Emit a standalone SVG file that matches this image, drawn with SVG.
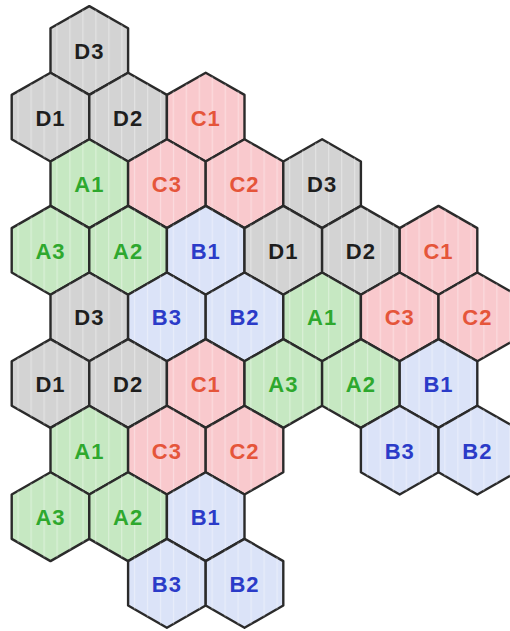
<svg xmlns="http://www.w3.org/2000/svg" width="510" height="631" viewBox="0 0 510 631">
<defs>
<pattern id="stripes" patternUnits="userSpaceOnUse" width="13" height="20">
<rect x="6" y="0" width="1.2" height="20" fill="#ffffff" opacity="0.35"/>
</pattern>
<style>
.hx{stroke:#2a2a2a;stroke-width:2.4;stroke-linejoin:round}
.st{fill:url(#stripes);stroke:none}
.d .hx{fill:#d3d3d3}
.a .hx{fill:#c6e8c2}
.c .hx{fill:#f9c9cd}
.b .hx{fill:#dbe3f8}
text{font-family:"Liberation Sans",Arial,sans-serif;font-weight:bold;font-size:22px;text-anchor:middle;letter-spacing:1px}
.d text{fill:#1e1e1e}
.a text{fill:#2ea82e}
.c text{fill:#e5553a}
.b text{fill:#2b3bc8}
</style>
</defs>
<g id="nodes">
<g id="r0-D3" class="d" transform="translate(89.3,50.5)"><polygon class="hx" points="0,-44.4 38.8,-22.2 38.8,22.2 0,44.4 -38.8,22.2 -38.8,-22.2"/><polygon class="st" points="0,-44.4 38.8,-22.2 38.8,22.2 0,44.4 -38.8,22.2 -38.8,-22.2"/><text x="0" y="8.5">D3</text></g>

<g id="r1-D1" class="d" transform="translate(50.5,117.1)"><polygon class="hx" points="0,-44.4 38.8,-22.2 38.8,22.2 0,44.4 -38.8,22.2 -38.8,-22.2"/><polygon class="st" points="0,-44.4 38.8,-22.2 38.8,22.2 0,44.4 -38.8,22.2 -38.8,-22.2"/><text x="0" y="8.5">D1</text></g>
<g id="r1-D2" class="d" transform="translate(128.1,117.1)"><polygon class="hx" points="0,-44.4 38.8,-22.2 38.8,22.2 0,44.4 -38.8,22.2 -38.8,-22.2"/><polygon class="st" points="0,-44.4 38.8,-22.2 38.8,22.2 0,44.4 -38.8,22.2 -38.8,-22.2"/><text x="0" y="8.5">D2</text></g>
<g id="r1-C1" class="c" transform="translate(205.7,117.1)"><polygon class="hx" points="0,-44.4 38.8,-22.2 38.8,22.2 0,44.4 -38.8,22.2 -38.8,-22.2"/><polygon class="st" points="0,-44.4 38.8,-22.2 38.8,22.2 0,44.4 -38.8,22.2 -38.8,-22.2"/><text x="0" y="8.5">C1</text></g>

<g id="r2-A1" class="a" transform="translate(89.3,183.7)"><polygon class="hx" points="0,-44.4 38.8,-22.2 38.8,22.2 0,44.4 -38.8,22.2 -38.8,-22.2"/><polygon class="st" points="0,-44.4 38.8,-22.2 38.8,22.2 0,44.4 -38.8,22.2 -38.8,-22.2"/><text x="0" y="8.5">A1</text></g>
<g id="r2-C3" class="c" transform="translate(166.9,183.7)"><polygon class="hx" points="0,-44.4 38.8,-22.2 38.8,22.2 0,44.4 -38.8,22.2 -38.8,-22.2"/><polygon class="st" points="0,-44.4 38.8,-22.2 38.8,22.2 0,44.4 -38.8,22.2 -38.8,-22.2"/><text x="0" y="8.5">C3</text></g>
<g id="r2-C2" class="c" transform="translate(244.5,183.7)"><polygon class="hx" points="0,-44.4 38.8,-22.2 38.8,22.2 0,44.4 -38.8,22.2 -38.8,-22.2"/><polygon class="st" points="0,-44.4 38.8,-22.2 38.8,22.2 0,44.4 -38.8,22.2 -38.8,-22.2"/><text x="0" y="8.5">C2</text></g>
<g id="r2-D3" class="d" transform="translate(322.1,183.7)"><polygon class="hx" points="0,-44.4 38.8,-22.2 38.8,22.2 0,44.4 -38.8,22.2 -38.8,-22.2"/><polygon class="st" points="0,-44.4 38.8,-22.2 38.8,22.2 0,44.4 -38.8,22.2 -38.8,-22.2"/><text x="0" y="8.5">D3</text></g>

<g id="r3-A3" class="a" transform="translate(50.5,250.3)"><polygon class="hx" points="0,-44.4 38.8,-22.2 38.8,22.2 0,44.4 -38.8,22.2 -38.8,-22.2"/><polygon class="st" points="0,-44.4 38.8,-22.2 38.8,22.2 0,44.4 -38.8,22.2 -38.8,-22.2"/><text x="0" y="8.5">A3</text></g>
<g id="r3-A2" class="a" transform="translate(128.1,250.3)"><polygon class="hx" points="0,-44.4 38.8,-22.2 38.8,22.2 0,44.4 -38.8,22.2 -38.8,-22.2"/><polygon class="st" points="0,-44.4 38.8,-22.2 38.8,22.2 0,44.4 -38.8,22.2 -38.8,-22.2"/><text x="0" y="8.5">A2</text></g>
<g id="r3-B1" class="b" transform="translate(205.7,250.3)"><polygon class="hx" points="0,-44.4 38.8,-22.2 38.8,22.2 0,44.4 -38.8,22.2 -38.8,-22.2"/><polygon class="st" points="0,-44.4 38.8,-22.2 38.8,22.2 0,44.4 -38.8,22.2 -38.8,-22.2"/><text x="0" y="8.5">B1</text></g>
<g id="r3-D1" class="d" transform="translate(283.3,250.3)"><polygon class="hx" points="0,-44.4 38.8,-22.2 38.8,22.2 0,44.4 -38.8,22.2 -38.8,-22.2"/><polygon class="st" points="0,-44.4 38.8,-22.2 38.8,22.2 0,44.4 -38.8,22.2 -38.8,-22.2"/><text x="0" y="8.5">D1</text></g>
<g id="r3-D2" class="d" transform="translate(360.9,250.3)"><polygon class="hx" points="0,-44.4 38.8,-22.2 38.8,22.2 0,44.4 -38.8,22.2 -38.8,-22.2"/><polygon class="st" points="0,-44.4 38.8,-22.2 38.8,22.2 0,44.4 -38.8,22.2 -38.8,-22.2"/><text x="0" y="8.5">D2</text></g>
<g id="r3-C1" class="c" transform="translate(438.5,250.3)"><polygon class="hx" points="0,-44.4 38.8,-22.2 38.8,22.2 0,44.4 -38.8,22.2 -38.8,-22.2"/><polygon class="st" points="0,-44.4 38.8,-22.2 38.8,22.2 0,44.4 -38.8,22.2 -38.8,-22.2"/><text x="0" y="8.5">C1</text></g>

<g id="r4-D3" class="d" transform="translate(89.3,316.9)"><polygon class="hx" points="0,-44.4 38.8,-22.2 38.8,22.2 0,44.4 -38.8,22.2 -38.8,-22.2"/><polygon class="st" points="0,-44.4 38.8,-22.2 38.8,22.2 0,44.4 -38.8,22.2 -38.8,-22.2"/><text x="0" y="8.5">D3</text></g>
<g id="r4-B3" class="b" transform="translate(166.9,316.9)"><polygon class="hx" points="0,-44.4 38.8,-22.2 38.8,22.2 0,44.4 -38.8,22.2 -38.8,-22.2"/><polygon class="st" points="0,-44.4 38.8,-22.2 38.8,22.2 0,44.4 -38.8,22.2 -38.8,-22.2"/><text x="0" y="8.5">B3</text></g>
<g id="r4-B2" class="b" transform="translate(244.5,316.9)"><polygon class="hx" points="0,-44.4 38.8,-22.2 38.8,22.2 0,44.4 -38.8,22.2 -38.8,-22.2"/><polygon class="st" points="0,-44.4 38.8,-22.2 38.8,22.2 0,44.4 -38.8,22.2 -38.8,-22.2"/><text x="0" y="8.5">B2</text></g>
<g id="r4-A1" class="a" transform="translate(322.1,316.9)"><polygon class="hx" points="0,-44.4 38.8,-22.2 38.8,22.2 0,44.4 -38.8,22.2 -38.8,-22.2"/><polygon class="st" points="0,-44.4 38.8,-22.2 38.8,22.2 0,44.4 -38.8,22.2 -38.8,-22.2"/><text x="0" y="8.5">A1</text></g>
<g id="r4-C3" class="c" transform="translate(399.7,316.9)"><polygon class="hx" points="0,-44.4 38.8,-22.2 38.8,22.2 0,44.4 -38.8,22.2 -38.8,-22.2"/><polygon class="st" points="0,-44.4 38.8,-22.2 38.8,22.2 0,44.4 -38.8,22.2 -38.8,-22.2"/><text x="0" y="8.5">C3</text></g>
<g id="r4-C2" class="c" transform="translate(477.3,316.9)"><polygon class="hx" points="0,-44.4 38.8,-22.2 38.8,22.2 0,44.4 -38.8,22.2 -38.8,-22.2"/><polygon class="st" points="0,-44.4 38.8,-22.2 38.8,22.2 0,44.4 -38.8,22.2 -38.8,-22.2"/><text x="0" y="8.5">C2</text></g>

<g id="r5-D1" class="d" transform="translate(50.5,383.5)"><polygon class="hx" points="0,-44.4 38.8,-22.2 38.8,22.2 0,44.4 -38.8,22.2 -38.8,-22.2"/><polygon class="st" points="0,-44.4 38.8,-22.2 38.8,22.2 0,44.4 -38.8,22.2 -38.8,-22.2"/><text x="0" y="8.5">D1</text></g>
<g id="r5-D2" class="d" transform="translate(128.1,383.5)"><polygon class="hx" points="0,-44.4 38.8,-22.2 38.8,22.2 0,44.4 -38.8,22.2 -38.8,-22.2"/><polygon class="st" points="0,-44.4 38.8,-22.2 38.8,22.2 0,44.4 -38.8,22.2 -38.8,-22.2"/><text x="0" y="8.5">D2</text></g>
<g id="r5-C1" class="c" transform="translate(205.7,383.5)"><polygon class="hx" points="0,-44.4 38.8,-22.2 38.8,22.2 0,44.4 -38.8,22.2 -38.8,-22.2"/><polygon class="st" points="0,-44.4 38.8,-22.2 38.8,22.2 0,44.4 -38.8,22.2 -38.8,-22.2"/><text x="0" y="8.5">C1</text></g>
<g id="r5-A3" class="a" transform="translate(283.3,383.5)"><polygon class="hx" points="0,-44.4 38.8,-22.2 38.8,22.2 0,44.4 -38.8,22.2 -38.8,-22.2"/><polygon class="st" points="0,-44.4 38.8,-22.2 38.8,22.2 0,44.4 -38.8,22.2 -38.8,-22.2"/><text x="0" y="8.5">A3</text></g>
<g id="r5-A2" class="a" transform="translate(360.9,383.5)"><polygon class="hx" points="0,-44.4 38.8,-22.2 38.8,22.2 0,44.4 -38.8,22.2 -38.8,-22.2"/><polygon class="st" points="0,-44.4 38.8,-22.2 38.8,22.2 0,44.4 -38.8,22.2 -38.8,-22.2"/><text x="0" y="8.5">A2</text></g>
<g id="r5-B1" class="b" transform="translate(438.5,383.5)"><polygon class="hx" points="0,-44.4 38.8,-22.2 38.8,22.2 0,44.4 -38.8,22.2 -38.8,-22.2"/><polygon class="st" points="0,-44.4 38.8,-22.2 38.8,22.2 0,44.4 -38.8,22.2 -38.8,-22.2"/><text x="0" y="8.5">B1</text></g>

<g id="r6-A1" class="a" transform="translate(89.3,450.1)"><polygon class="hx" points="0,-44.4 38.8,-22.2 38.8,22.2 0,44.4 -38.8,22.2 -38.8,-22.2"/><polygon class="st" points="0,-44.4 38.8,-22.2 38.8,22.2 0,44.4 -38.8,22.2 -38.8,-22.2"/><text x="0" y="8.5">A1</text></g>
<g id="r6-C3" class="c" transform="translate(166.9,450.1)"><polygon class="hx" points="0,-44.4 38.8,-22.2 38.8,22.2 0,44.4 -38.8,22.2 -38.8,-22.2"/><polygon class="st" points="0,-44.4 38.8,-22.2 38.8,22.2 0,44.4 -38.8,22.2 -38.8,-22.2"/><text x="0" y="8.5">C3</text></g>
<g id="r6-C2" class="c" transform="translate(244.5,450.1)"><polygon class="hx" points="0,-44.4 38.8,-22.2 38.8,22.2 0,44.4 -38.8,22.2 -38.8,-22.2"/><polygon class="st" points="0,-44.4 38.8,-22.2 38.8,22.2 0,44.4 -38.8,22.2 -38.8,-22.2"/><text x="0" y="8.5">C2</text></g>
<g id="r6-B3" class="b" transform="translate(399.7,450.1)"><polygon class="hx" points="0,-44.4 38.8,-22.2 38.8,22.2 0,44.4 -38.8,22.2 -38.8,-22.2"/><polygon class="st" points="0,-44.4 38.8,-22.2 38.8,22.2 0,44.4 -38.8,22.2 -38.8,-22.2"/><text x="0" y="8.5">B3</text></g>
<g id="r6-B2" class="b" transform="translate(477.3,450.1)"><polygon class="hx" points="0,-44.4 38.8,-22.2 38.8,22.2 0,44.4 -38.8,22.2 -38.8,-22.2"/><polygon class="st" points="0,-44.4 38.8,-22.2 38.8,22.2 0,44.4 -38.8,22.2 -38.8,-22.2"/><text x="0" y="8.5">B2</text></g>

<g id="r7-A3" class="a" transform="translate(50.5,516.7)"><polygon class="hx" points="0,-44.4 38.8,-22.2 38.8,22.2 0,44.4 -38.8,22.2 -38.8,-22.2"/><polygon class="st" points="0,-44.4 38.8,-22.2 38.8,22.2 0,44.4 -38.8,22.2 -38.8,-22.2"/><text x="0" y="8.5">A3</text></g>
<g id="r7-A2" class="a" transform="translate(128.1,516.7)"><polygon class="hx" points="0,-44.4 38.8,-22.2 38.8,22.2 0,44.4 -38.8,22.2 -38.8,-22.2"/><polygon class="st" points="0,-44.4 38.8,-22.2 38.8,22.2 0,44.4 -38.8,22.2 -38.8,-22.2"/><text x="0" y="8.5">A2</text></g>
<g id="r7-B1" class="b" transform="translate(205.7,516.7)"><polygon class="hx" points="0,-44.4 38.8,-22.2 38.8,22.2 0,44.4 -38.8,22.2 -38.8,-22.2"/><polygon class="st" points="0,-44.4 38.8,-22.2 38.8,22.2 0,44.4 -38.8,22.2 -38.8,-22.2"/><text x="0" y="8.5">B1</text></g>

<g id="r8-B3" class="b" transform="translate(166.9,583.3)"><polygon class="hx" points="0,-44.4 38.8,-22.2 38.8,22.2 0,44.4 -38.8,22.2 -38.8,-22.2"/><polygon class="st" points="0,-44.4 38.8,-22.2 38.8,22.2 0,44.4 -38.8,22.2 -38.8,-22.2"/><text x="0" y="8.5">B3</text></g>
<g id="r8-B2" class="b" transform="translate(244.5,583.3)"><polygon class="hx" points="0,-44.4 38.8,-22.2 38.8,22.2 0,44.4 -38.8,22.2 -38.8,-22.2"/><polygon class="st" points="0,-44.4 38.8,-22.2 38.8,22.2 0,44.4 -38.8,22.2 -38.8,-22.2"/><text x="0" y="8.5">B2</text></g>
</g>
<g id="connectors"/>
</svg>
